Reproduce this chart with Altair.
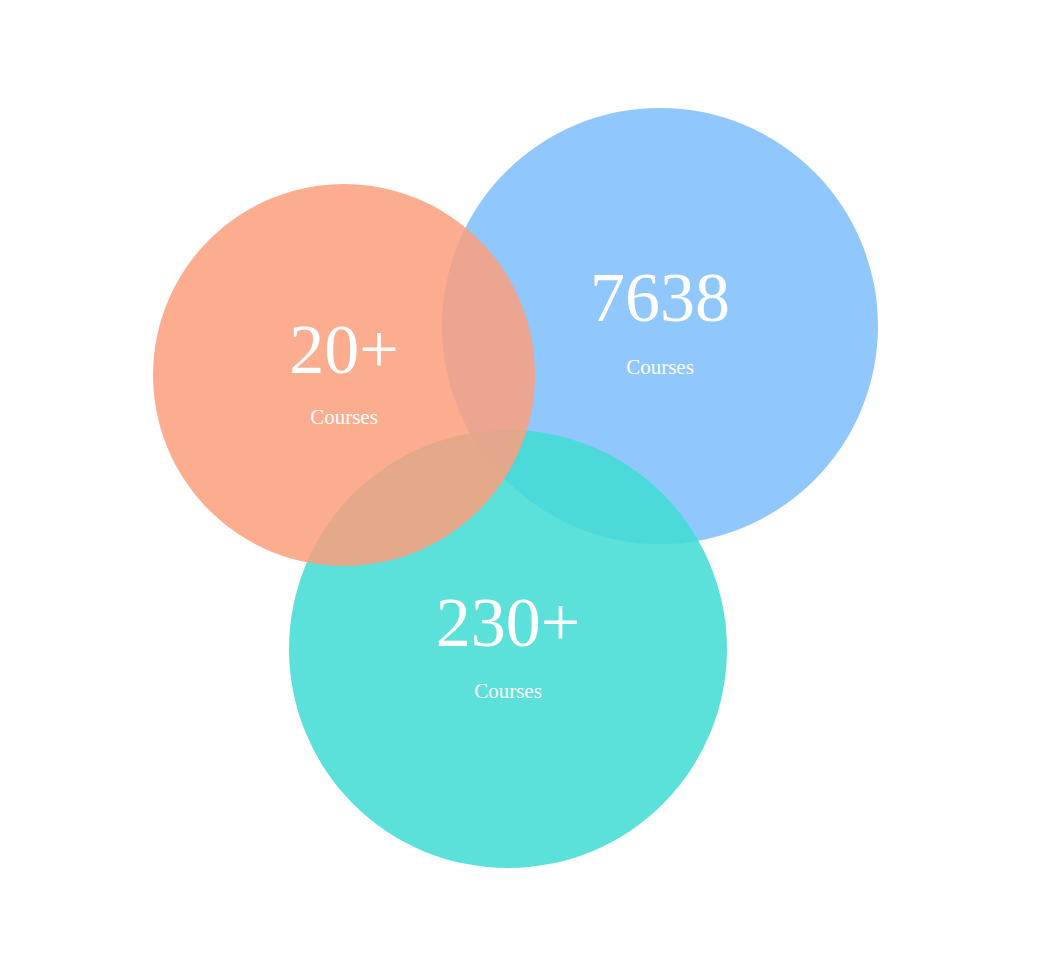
import altair as alt
import pandas as pd

# circles, in page pixels (drawn in this order)
names = ["blue", "teal", "orange"]
cx = [660, 508, 344]
cy = [326, 649, 375]
radius = [218, 219, 191]
colors = ["#7dbdfc", "#3fdcd3", "#fb9f7c"]

values = ["7638", "230+", "20+"]
label_y = [300, 625, 352]
sub_y = [368, 692, 418]

circles = pd.DataFrame({
    "name": names,
    "order": [0, 1, 2],
    "x": [v - 8 for v in cx],
    "y": [v - 8 for v in cy],
    "size": [4 * r * r for r in radius],
})
texts = pd.DataFrame({
    "x": [v - 8 for v in cx],
    "y": [v - 8 for v in label_y],
    "y2": [v - 8 for v in sub_y],
    "value": values,
})

W, H = 1022, 944
xs = alt.Scale(domain=[0, W], range=[0, W])
ys = alt.Scale(domain=[0, H], range=[0, H])

base = alt.Chart(circles).mark_circle(opacity=0.85, stroke=None).encode(
    x=alt.X("x:Q", scale=xs, axis=None),
    y=alt.Y("y:Q", scale=ys, axis=None),
    size=alt.Size("size:Q", scale=None, legend=None),
    color=alt.Color("name:N", scale=alt.Scale(domain=names, range=colors), legend=None),
    order=alt.Order("order:Q"),
)

nums = alt.Chart(texts).mark_text(
    font="Liberation Serif", fontSize=70, color="white", baseline="middle"
).encode(
    x=alt.X("x:Q", scale=xs, axis=None),
    y=alt.Y("y:Q", scale=ys, axis=None),
    text="value:N",
)

subs = alt.Chart(texts).mark_text(
    font="Liberation Serif", fontSize=21, color="white", baseline="middle"
).encode(
    x=alt.X("x:Q", scale=xs, axis=None),
    y=alt.Y("y2:Q", scale=ys, axis=None),
    text=alt.value("Courses"),
)

chart = alt.layer(base, nums, subs).properties(
    width=W, height=H, autosize=alt.AutoSizeParams(type="none"), padding=0
).configure_view(stroke=None)

chart.save("out.html", embed_options={"renderer": "svg", "actions": False})
